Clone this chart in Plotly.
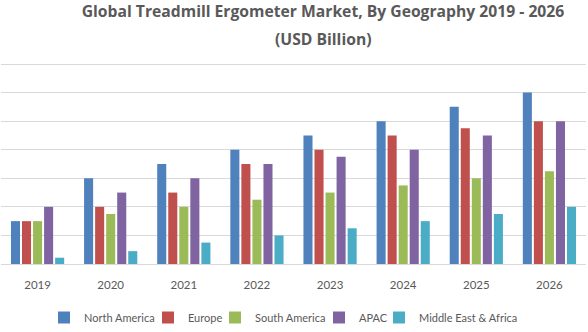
import plotly.graph_objects as go

years = ["2019", "2020", "2021", "2022", "2023", "2024", "2025", "2026"]
north_america = [1.5, 3.0, 3.5, 4.0, 4.5, 5.0, 5.5, 6.0]
europe = [1.5, 2.0, 2.5, 3.5, 4.0, 4.5, 4.75, 5.0]
south_america = [1.5, 1.75, 2.0, 2.25, 2.5, 2.75, 3.0, 3.25]
apac = [2.0, 2.5, 3.0, 3.5, 3.75, 4.0, 4.5, 5.0]
mea = [0.22, 0.45, 0.75, 1.0, 1.25, 1.5, 1.75, 2.0]

series_names = ["North America", "Europe", "South America", "APAC", "Middle East & Africa"]
series_values = [north_america, europe, south_america, apac, mea]
series_colors = ["#4F81BD", "#C0504D", "#9BBB59", "#8064A2", "#4BACC6"]

# legend item text start positions (pixels)
legend_text_px = [84, 188, 255, 359, 419]

W, H = 588, 332
ML, MR, MT, MB = 1, 2, 62, 67
PW = W - ML - MR
PH = H - MT - MB

fig = go.Figure()
legend_layouts = {}
for i, (name, vals, color) in enumerate(zip(series_names, series_values, series_colors)):
    lname = "legend" if i == 0 else f"legend{i + 1}"
    fig.add_trace(go.Bar(x=years, y=vals, name=name, legend=lname,
                         marker=dict(color=color, line=dict(width=0))))
    left_px = legend_text_px[i] - 40
    legend_layouts[lname] = dict(
        orientation="h", x=(left_px - ML) / PW, xanchor="left",
        y=(MT + PH - 318) / PH, yanchor="middle",
        font=dict(family="Lato, sans-serif", size=11, color="#595959"), itemwidth=30,
        bgcolor="rgba(0,0,0,0)", borderwidth=0,
    )

fig.update_layout(
    width=W, height=H,
    margin=dict(l=ML, r=MR, t=MT, b=MB),
    paper_bgcolor="white", plot_bgcolor="white",
    barmode="group", bargap=0.245, bargroupgap=0.18,
    font=dict(family="Open Sans, sans-serif", color="#595959", size=11),
    title=dict(
        text="<b>Global Treadmill Ergometer Market, By Geography 2019 - 2026</b>",
        x=323 / W, xanchor="center", xref="container",
        y=1 - 12 / H, yanchor="middle", yref="container",
        font=dict(family="Open Sans, sans-serif", size=15.7, color="#595959"),
    ),
    xaxis=dict(showgrid=False, showline=True, linecolor="#D9D9D9", linewidth=1,
               ticks="", ticklabelstandoff=10,
               tickfont=dict(family="Lato, sans-serif", size=11.5, color="#595959")),
    yaxis=dict(range=[0, 7.07], dtick=1, showgrid=True, gridcolor="#D9D9D9", gridwidth=1,
               showticklabels=False, zeroline=False, showline=False),
    showlegend=True,
    annotations=[dict(
        text="<b>(USD Billion)</b>", xref="paper", yref="paper",
        x=(323 - ML) / PW, y=(MT + PH - 39) / PH, xanchor="center", yanchor="middle",
        showarrow=False, font=dict(family="Open Sans, sans-serif", size=15.7, color="#595959"),
    )],
    **legend_layouts,
)

fig.write_html("out.html")
